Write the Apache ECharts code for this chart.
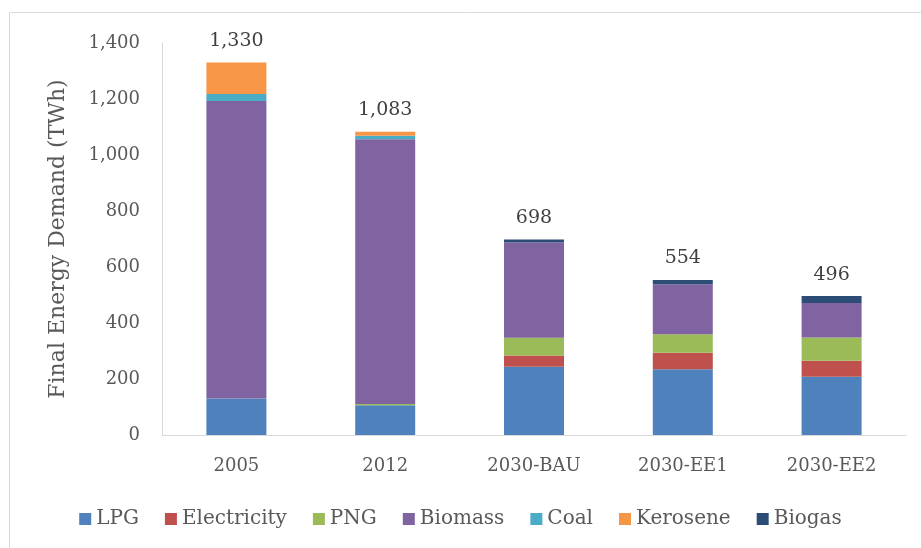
<!DOCTYPE html>
<html>
<head>
<meta charset="utf-8">
<script src="https://cdn.jsdelivr.net/npm/echarts@6/dist/echarts.min.js"></script>
<style>html,body{margin:0;padding:0;background:#fff}#c{width:921px;height:548px}</style>
</head>
<body>
<div id="c"></div>
<script>
const categories = ['2005', '2012', '2030-BAU', '2030-EE1', '2030-EE2'];
const lpg         = [130, 106, 244, 235, 208];
const electricity = [0, 0, 40, 59, 57];
const png         = [0, 5, 63, 66, 83];
const biomass     = [1063, 945, 341, 178, 123];
const coal        = [25, 13, 0, 0, 0];
const kerosene    = [112, 14, 0, 0, 0];
const biogas      = [0, 0, 10, 16, 25];
const totals      = [1330, 1083, 698, 554, 496];
const yTicks      = [0, 200, 400, 600, 800, 1000, 1200, 1400];

const FONT = 'DejaVu Serif';
const seriesDefs = [
  ['LPG', lpg, '#4f81bd'],
  ['Electricity', electricity, '#c0504d'],
  ['PNG', png, '#9bbb59'],
  ['Biomass', biomass, '#8064a2'],
  ['Coal', coal, '#4bacc6'],
  ['Kerosene', kerosene, '#f79646'],
  ['Biogas', biogas, '#2c4d75']
];

const series = seriesDefs.map(([name, data, color], i) => ({
  name, type: 'bar', stack: 'total', data, barWidth: 60,
  itemStyle: { color },
  label: i === seriesDefs.length - 1 ? {
    show: true, position: 'top', distance: 12,
    formatter: p => totals[p.dataIndex].toLocaleString('en-US'),
    fontFamily: FONT, fontSize: 19, color: '#404040'
  } : { show: false }
}));

const chart = echarts.init(document.getElementById('c'), null, { renderer: 'canvas' });
chart.setOption({
  animation: false,
  backgroundColor: '#fff',
  graphic: [{
    type: 'rect', shape: { x: 9.5, y: 12.5, width: 1000, height: 1000 },
    style: { fill: 'none', stroke: '#d9d9d9', lineWidth: 1 }, silent: true
  }],
  grid: { left: 162, right: 15, top: 43, bottom: 113, containLabel: false },
  legend: {
    bottom: 14, left: 'center', itemWidth: 12, itemHeight: 12, itemGap: 26,
    icon: 'rect',
    textStyle: { fontFamily: FONT, fontSize: 20, color: '#595959' },
    data: seriesDefs.map(d => d[0])
  },
  xAxis: {
    type: 'category', data: categories,
    axisLine: { lineStyle: { color: '#d9d9d9', width: 1 } },
    axisTick: { show: false },
    axisLabel: { fontFamily: FONT, fontSize: 18, color: '#595959', margin: 22 }
  },
  yAxis: {
    type: 'value', min: 0, max: 1400, interval: 200,
    name: 'Final Energy Demand (TWh)', nameLocation: 'middle', nameGap: 93,
    nameTextStyle: { fontFamily: FONT, fontSize: 22, color: '#595959' },
    axisLine: { show: true, lineStyle: { color: '#d9d9d9', width: 1 } },
    axisTick: { show: false },
    splitLine: { show: false },
    axisLabel: {
      fontFamily: FONT, fontSize: 18, color: '#595959', margin: 22,
      formatter: v => yTicks.includes(v) ? v.toLocaleString('en-US') : ''
    }
  },
  series
});
</script>
</body>
</html>
